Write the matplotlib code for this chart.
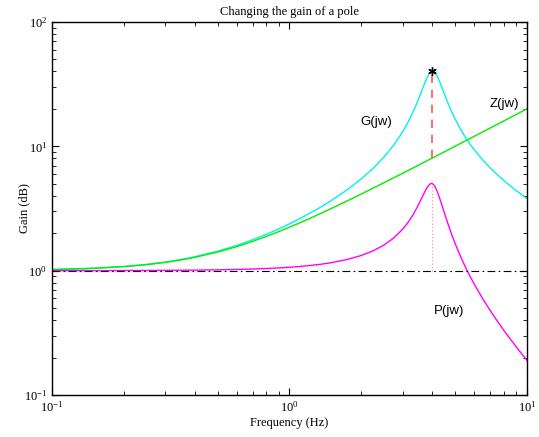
import matplotlib
matplotlib.use("Agg")
import matplotlib.pyplot as plt
from matplotlib.ticker import LogLocator, NullFormatter

plt.rcParams['mathtext.fontset'] = 'stix'
plt.rcParams['font.family'] = ['Liberation Serif', 'DejaVu Serif']

# Frequency samples (Hz)
freq = [0.1, 0.15, 0.2, 0.25, 0.3, 0.35, 0.4, 0.5, 0.6, 0.7, 0.8, 0.9, 1.0, 1.1,
        1.2, 1.35, 1.5, 1.75, 2.0, 2.25, 2.5, 2.75, 3.0, 3.15, 3.3, 3.45, 3.6,
        3.7, 3.8, 3.9, 3.95, 4.0, 4.05, 4.1, 4.2, 4.3, 4.4, 4.55, 4.7, 4.85, 5.0,
        5.25, 5.5, 5.75, 6.0, 6.5, 7.0, 7.5, 8.0, 8.5, 9.0, 9.5, 10.0]
# G(jw) gain
g_gain = [1.021, 1.046, 1.080, 1.122, 1.172, 1.230, 1.294, 1.436, 1.597, 1.774,
          1.964, 2.166, 2.382, 2.610, 2.851, 3.240, 3.666, 4.476, 5.449, 6.654,
          8.197, 10.26, 13.15, 15.51, 18.57, 22.58, 27.77, 31.82, 35.90, 39.09,
          40.00, 40.31, 40.00, 39.12, 36.20, 32.62, 29.12, 24.63, 21.13, 18.43,
          16.33, 13.72, 11.85, 10.45, 9.366, 7.796, 6.711, 5.911, 5.296, 4.809,
          4.412, 4.079, 3.796]
# Z(jw) gain
z_gain = [1.020, 1.044, 1.077, 1.118, 1.166, 1.221, 1.281, 1.414, 1.562, 1.721,
          1.887, 2.059, 2.236, 2.417, 2.600, 2.879, 3.162, 3.640, 4.123, 4.610,
          5.099, 5.590, 6.083, 6.379, 6.675, 6.972, 7.269, 7.467, 7.666, 7.864,
          7.963, 8.062, 8.162, 8.261, 8.459, 8.658, 8.857, 9.155, 9.453, 9.751,
          10.05, 10.55, 11.05, 11.54, 12.04, 13.04, 14.04, 15.03, 16.03, 17.03,
          18.03, 19.03, 20.02]
# P(jw) gain
p_gain = [1.001, 1.001, 1.003, 1.004, 1.006, 1.008, 1.010, 1.016, 1.023, 1.031,
          1.041, 1.052, 1.065, 1.080, 1.097, 1.125, 1.159, 1.230, 1.322, 1.443,
          1.608, 1.835, 2.162, 2.432, 2.782, 3.239, 3.821, 4.261, 4.683, 4.971,
          5.024, 5.000, 4.901, 4.736, 4.279, 3.768, 3.288, 2.691, 2.236, 1.890,
          1.625, 1.301, 1.073, 0.905, 0.778, 0.598, 0.478, 0.393, 0.330, 0.282,
          0.245, 0.214, 0.190]

peak_freq = 4.0
peak_gain = 40.31
zero_at_peak = 8.062
pole_peak = 5.0
unity = 1.0

fig = plt.figure(figsize=(5.39, 4.37), dpi=100)
ax = fig.add_axes([0.0965, 0.0961, 0.8812, 0.8536])

ax.plot(freq, g_gain, color='#00f0f0', lw=1.0)
ax.plot(freq, z_gain, color='#00ee00', lw=1.0)
ax.plot(freq, p_gain, color='#ff00ff', lw=1.0)
ax.plot([freq[0], freq[-1]], [unity, unity], color='black', lw=0.8, ls=(0, (7, 3, 1.5, 3)))
ax.plot([peak_freq, peak_freq], [zero_at_peak, peak_gain], color='#ff5555', lw=1.2, ls=(0, (5, 4)))
ax.plot([peak_freq, peak_freq], [unity, pole_peak], color='#ff8888', lw=0.8, ls=(0, (1, 2)))
ax.plot([peak_freq], [peak_gain], marker=(6, 2, 0), color='black', ms=6, mew=1.0)

ax.text(2.31, 15.8, 'G(jw)', family='Liberation Sans', fontsize=9.5, ha='center', va='center')
ax.text(8.07, 22.0, 'Z(jw)', family='Liberation Sans', fontsize=9.5, ha='center', va='center')
ax.text(4.70, 0.477, 'P(jw)', family='Liberation Sans', fontsize=9.5, ha='center', va='center')

ax.set_xscale('log')
ax.set_yscale('log')
ax.set_xlim(0.1, 10)
ax.set_ylim(0.1, 100)
ax.xaxis.set_major_locator(LogLocator(base=10, numticks=10))
ax.yaxis.set_major_locator(LogLocator(base=10, numticks=10))
ax.xaxis.set_minor_locator(LogLocator(base=10, subs=range(2, 10), numticks=20))
ax.yaxis.set_minor_locator(LogLocator(base=10, subs=range(2, 10), numticks=20))
ax.xaxis.set_minor_formatter(NullFormatter())
ax.yaxis.set_minor_formatter(NullFormatter())
ax.tick_params(which='both', direction='in', top=True, right=True, labelsize=9)
ax.tick_params(which='major', length=5, width=0.8)
ax.tick_params(which='minor', length=3, width=0.6)
for s in ax.spines.values():
    s.set_linewidth(1.0)

ax.set_title('Changing the gain of a pole', fontsize=9, pad=5)
ax.set_xlabel('Frequency (Hz)', fontsize=9, labelpad=2)
ax.set_ylabel('Gain (dB)', fontsize=9, labelpad=-5)

fig.savefig('out.png', dpi=100)
